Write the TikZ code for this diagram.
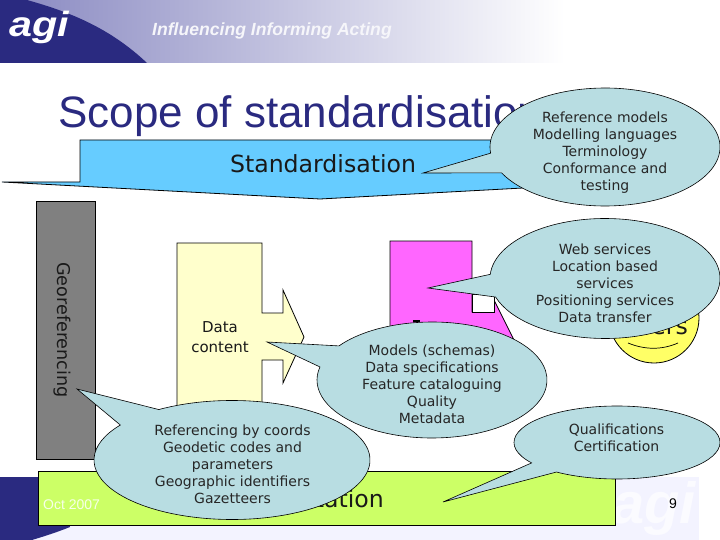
\documentclass[tikz,border=0pt]{standalone}
\usepackage{fontspec}
\setmainfont{DejaVu Sans}
\newfontfamily\arialf{Liberation Sans}
\usetikzlibrary{calc}
\definecolor{navy}{RGB}{42,42,128}
\definecolor{lav}{RGB}{243,243,255}
\definecolor{bandl}{RGB}{140,140,195}
\definecolor{calloutc}{RGB}{184,221,226}
\definecolor{stdblue}{RGB}{102,204,255}
\definecolor{impgreen}{RGB}{204,255,102}
\definecolor{datay}{RGB}{255,255,204}
\definecolor{magent}{RGB}{255,102,255}
\definecolor{usery}{RGB}{255,255,102}
\definecolor{georey}{RGB}{128,128,128}
\tikzset{
  shapeline/.style={draw=black,line width=0.8pt,line join=miter},
  callouttext/.style={align=center,font=\fontsize{14}{17}\selectfont,inner sep=0pt,text=black!85},
  bigtext/.style={font=\fontsize{23.6}{26}\selectfont,inner sep=0pt,text=black!90},
  smalltext/.style={font=\fontsize{15}{20}\selectfont,align=center,inner sep=0pt,text=black!90},
}
% centre x, centre y, rx, ry, start angle, end angle, tip x, tip y, coordinate name
\newcommand{\speechbubble}[9]{%
  \fill[calloutc,draw=black,line width=0.6pt,line join=miter]
    (#7,#8) -- ($(#1,#2)+(#5:#3 and #4)$)
    arc[start angle=#5,end angle=#6,x radius=#3,y radius=#4] -- cycle;
  \coordinate (#9) at (#1,#2);
}
\begin{document}
\begin{tikzpicture}[x=1pt,y=-1pt]
\useasboundingbox (0,0) rectangle (720,540);
\fill[white] (0,0) rectangle (720,540);
% header
\shade[left color=bandl,right color=white] (20,0) rectangle (565,63);
\fill[navy] (0,0) -- (27,0) .. controls (70,12) and (110,28) .. (147,63) -- (0,63) -- cycle;
\node[name=logo,font=\arialf\bfseries\itshape\fontsize{35}{35}\selectfont,text=white,inner sep=0pt,anchor=base west,xscale=1.18,transform shape] at (9,37) {agi};
\node[name=strap,font=\arialf\bfseries\itshape\fontsize{17.6}{20}\selectfont,text=white!92!bandl,inner sep=0pt,anchor=base west] at (152,36) {Influencing Informing Acting};
% footer
\fill[lav] (30,525) rectangle (699,540);
\fill[lav] (615,477) rectangle (699,540);
\fill[navy] (0,477) -- (60,477) -- (70,527) .. controls (55,533) and (45,536) .. (32,540) -- (0,540) -- cycle;
\begin{scope}
\clip (615,477) rectangle (699,540);
\node[name=wmark,font=\arialf\bfseries\itshape\fontsize{58}{58}\selectfont,text=white!70!lav,inner sep=0pt,anchor=base west] at (612,523) {agi};
\end{scope}
\node[name=pageno,font=\arialf\fontsize{14}{14}\selectfont,inner sep=0pt] at (673,504) {9};
% title
\node[name=title,font=\arialf\fontsize{44}{48}\selectfont,text=navy,inner sep=0pt,anchor=base west] at (58,128) {Scope of standardisation};
% standardisation banner
\path[shapeline,fill=stdblue] (2,182) -- (80,182) -- (80,140) -- (560,140) -- (560,186) -- (320,199) -- cycle;
\node[bigtext,name=stdtext] at (323,164) {Standardisation};
% georeferencing
\node[shapeline,fill=georey,minimum width=59.5pt,minimum height=258pt,inner sep=0pt,name=georect] at (65.7,330) {};
\node[name=geotext,rotate=-90,font=\fontsize{17.6}{20}\selectfont,inner sep=0pt,text=black!90] at (62,330) {Georeferencing};
% green bar
\node[shapeline,fill=impgreen,minimum width=577pt,minimum height=54pt,inner sep=0pt,name=greenrect] at (326.5,498) {};
\node[name=oct,font=\arialf\fontsize{14}{14}\selectfont,text=white!85!impgreen,inner sep=0pt,anchor=base west] at (43,509) {Oct 2007};
\node[bigtext,name=imptext,anchor=base east] at (384,507) {Implementation};
% data content
\path[shapeline,fill=datay] (177,243) -- (262,243) -- (262,313) -- (283,313) -- (283,290) -- (304,337) -- (283,383) -- (283,360) -- (262,360) -- (262,459) -- (177,459) -- cycle;
\node[smalltext,name=datatext] at (220,337) {Data\\content};
% magenta service box
\path[shapeline,fill=magent] (390,241) -- (472,241) -- (472,312) -- (494,312) -- (494,300) -- (514,340) -- (494,400) -- (390,400) -- cycle;
\node[shapeline,fill=white,minimum width=22pt,minimum height=18pt,inner sep=0pt,name=whitebox] at (483,303) {};
\fill[black] (413,320) rectangle (420,322);
% users
\node[shapeline,fill=usery,circle,minimum size=90pt,inner sep=0pt,name=usercircle] at (654,318) {};
\node[bigtext,name=usertext,anchor=base east] at (688,334) {Users};
\path[draw=black,line width=0.7pt] (628,343) .. controls (645,350) and (662,350) .. (678,343);
% bubbles
\speechbubble{605}{147}{115}{59}{174}{514}{423}{173}{b1}
\speechbubble{605}{278.5}{115}{60}{184}{522}{428}{288}{b2}
\speechbubble{617}{442.5}{103}{36.5}{146}{486}{443}{502}{b5}
\speechbubble{432}{380}{115}{58}{216}{553}{267}{342}{b3}
\speechbubble{232}{460}{138}{59.5}{238}{576}{77}{389}{b4}
\node[callouttext,name=t1] at (605,152.5) {Reference models\\Modelling languages\\Terminology\\Conformance and\\testing};
\node[callouttext,name=t2] at (605,283) {Web services\\Location based\\services\\Positioning services\\Data transfer};
\node[callouttext,name=t3] at (432,384.5) {Models (schemas)\\Data specifications\\Feature cataloguing\\Quality\\Metadata};
\node[callouttext,name=t4] at (232.5,464.5) {Referencing by coords\\Geodetic codes and\\parameters\\Geographic identifiers\\Gazetteers};
\node[callouttext,name=t5] at (616.5,438) {Qualifications\\Certification};
\end{tikzpicture}
\end{document}
